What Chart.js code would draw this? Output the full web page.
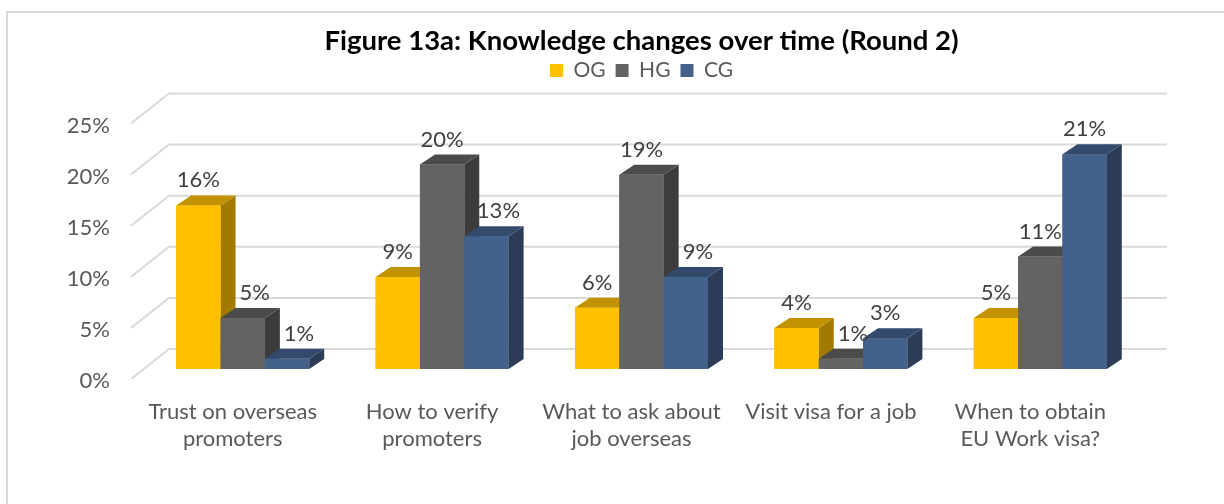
<!DOCTYPE html>
<html>
<head>
<meta charset="utf-8">
<title>Knowledge changes over time</title>
<script src="https://cdn.jsdelivr.net/npm/chart.js@4"></script>
<style>
    body { margin: 0; background: #ffffff; }
    #knowledgeChart { display: block; }
</style>
</head>
<body>
<canvas id="knowledgeChart" width="1224" height="504"></canvas>
<script>
// Survey topics (x axis)
const topics = [
    ['Trust on overseas', 'promoters'],
    ['How to verify', 'promoters'],
    ['What to ask about', 'job overseas'],
    'Visit visa for a job',
    ['When to obtain', 'EU Work visa?']
];

// Share of respondents whose knowledge changed, in %
const groupNames = ['OG', 'HG', 'CG'];
const ogValues = [16, 9, 6, 4, 5];
const hgValues = [5, 20, 19, 1, 11];
const cgValues = [1, 13, 9, 3, 21];

const yTicks = [0, 5, 10, 15, 20, 25];

// front / top / side shades for the fake 3D columns
const palette = [
    { front: '#FFC000', top: '#C39200', side: '#A27A00' },
    { front: '#636363', top: '#4A4B4B', side: '#3C3C3D' },
    { front: '#44618A', top: '#334A6C', side: '#2C3C56' }
];

const DEPTH_X = 15;
const DEPTH_Y = 10;

const depthPlugin = {
    id: 'depth3d',
    beforeDraw(chart) {
        const ctx = chart.ctx;
        ctx.save();
        ctx.fillStyle = '#ffffff';
        ctx.fillRect(0, 0, chart.width, chart.height);
        // outer frame, only left and top edges show
        ctx.strokeStyle = '#D9D9D9';
        ctx.lineWidth = 2;
        ctx.beginPath();
        ctx.moveTo(7, chart.height);
        ctx.lineTo(7, 12);
        ctx.lineTo(chart.width, 12);
        ctx.stroke();
        ctx.restore();
    },
    beforeDatasetsDraw(chart) {
        // gridlines: slanted floor edge then back wall line
        const ctx = chart.ctx;
        const y = chart.scales.y;
        const area = chart.chartArea;
        ctx.save();
        ctx.strokeStyle = '#DADADA';
        ctx.lineWidth = 2;
        y.ticks.forEach(t => {
            const py = y.getPixelForValue(t.value);
            ctx.beginPath();
            ctx.moveTo(area.left - 12, py + 10);
            ctx.lineTo(area.left + 26, py - 20);
            ctx.lineTo(area.right + 27, py - 20);
            ctx.stroke();
        });
        ctx.restore();
    },
    afterDatasetsDraw(chart) {
        const ctx = chart.ctx;
        const sets = chart.data.datasets;
        ctx.save();
        // left to right inside each group so the next column hides the side of the previous one
        sets.forEach((ds, i) => {
            const meta = chart.getDatasetMeta(i);
            const c = palette[i];
            meta.data.forEach(bar => {
                const p = bar.getProps(['x', 'y', 'base', 'width'], true);
                const l = p.x - p.width / 2;
                const r = p.x + p.width / 2;
                ctx.fillStyle = c.side;
                ctx.beginPath();
                ctx.moveTo(r, p.y);
                ctx.lineTo(r + DEPTH_X, p.y - DEPTH_Y);
                ctx.lineTo(r + DEPTH_X, p.base - DEPTH_Y);
                ctx.lineTo(r, p.base);
                ctx.closePath();
                ctx.fill();
                ctx.fillStyle = c.top;
                ctx.beginPath();
                ctx.moveTo(l, p.y);
                ctx.lineTo(r, p.y);
                ctx.lineTo(r + DEPTH_X, p.y - DEPTH_Y);
                ctx.lineTo(l + DEPTH_X, p.y - DEPTH_Y);
                ctx.closePath();
                ctx.fill();
                bar.draw(ctx);
            });
        });

        // value labels; nudge right when the column to the left is taller
        ctx.font = '22px Lato';
        ctx.fillStyle = '#404040';
        ctx.textAlign = 'center';
        ctx.textBaseline = 'alphabetic';
        sets.forEach((ds, i) => {
            chart.getDatasetMeta(i).data.forEach((bar, j) => {
                const p = bar.getProps(['x', 'y'], true);
                const blocked = i > 0 && sets[i - 1].data[j] > ds.data[j];
                const dx = blocked ? 12 : 0;
                ctx.fillText(ds.data[j] + '%', p.x + dx, p.y - DEPTH_Y - 8);
            });
        });
        ctx.restore();
    }
};

const seriesValues = [ogValues, hgValues, cgValues];

const ctx = document.getElementById('knowledgeChart').getContext('2d');
const chart = new Chart(ctx, {
    type: 'bar',
    data: {
        labels: topics,
        datasets: groupNames.map((name, i) => ({
            label: name,
            data: seriesValues[i],
            backgroundColor: palette[i].front,
            borderWidth: 0,
            categoryPercentage: 0.667,
            barPercentage: 1.0
        }))
    },
    options: {
        responsive: false,
        animation: false,
        devicePixelRatio: 1,
        layout: {
            padding: { left: 0, right: 84, top: 0, bottom: 0 }
        },
        plugins: {
            title: {
                display: true,
                fullSize: false,
                text: 'Figure 13a: Knowledge changes over time (Round 2)',
                color: '#000000',
                font: { family: 'Lato', size: 27.5, weight: 'bold', lineHeight: 0.8 },
                padding: { top: 30, bottom: -2 }
            },
            legend: {
                display: true,
                fullSize: false,
                labels: {
                    color: '#595959',
                    font: { family: 'Lato', size: 21 },
                    boxWidth: 13,
                    boxHeight: 13,
                    padding: 10
                }
            },
            tooltip: { enabled: false }
        },
        scales: {
            x: {
                grid: { display: false },
                border: { display: false },
                ticks: {
                    color: '#595959',
                    font: { family: 'Lato', size: 22, lineHeight: 1.25 },
                    padding: 21,
                    labelOffset: -10,
                    autoSkip: false,
                    maxRotation: 0
                },
                afterFit: (scale) => { scale.height = 135; }
            },
            y: {
                min: 0,
                max: 27.2,
                grid: { display: false, drawTicks: false },
                border: { display: false },
                ticks: {
                    color: '#595959',
                    font: { family: 'Lato', size: 22 },
                    padding: 33,
                    labelOffset: 12,
                    callback: (value) => value + '%'
                },
                afterBuildTicks: (scale) => {
                    scale.ticks = yTicks.map(v => ({ value: v }));
                },
                afterFit: (scale) => { scale.width = 143; }
            }
        }
    },
    plugins: [depthPlugin]
});
</script>
</body>
</html>
